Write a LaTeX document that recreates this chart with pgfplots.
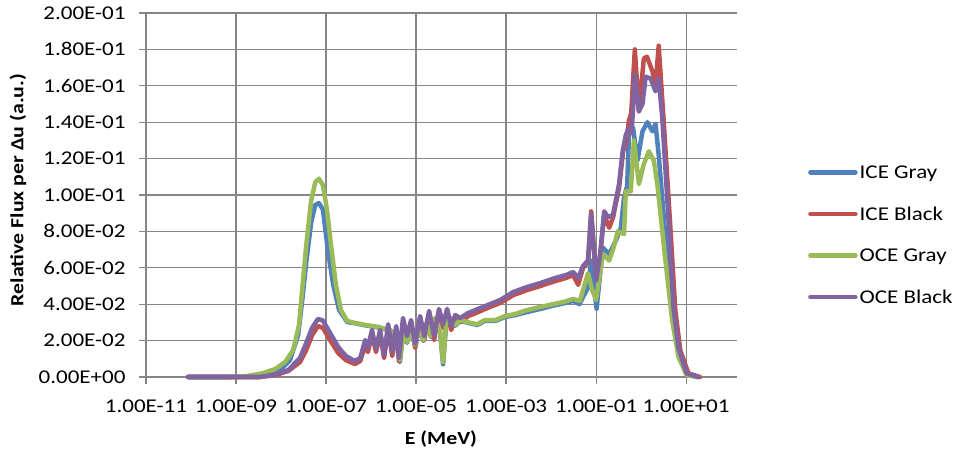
\documentclass[border=0pt]{standalone}
\usepackage{fontspec}
\setmainfont{Carlito}[FakeStretch=1.18]
\usepackage{pgfplots}
\usepackage{pgfplotstable}
\pgfplotsset{compat=1.18}
\definecolor{gridgray}{RGB}{134,134,134}
\definecolor{iceg}{RGB}{79,129,189}
\definecolor{iceb}{RGB}{192,80,77}
\definecolor{oceg}{RGB}{155,187,89}
\definecolor{oceb}{RGB}{128,100,162}

% x = log10(E / MeV), y = relative flux per lethargy
\pgfplotstableread{
logE val
-10.07 0
-9.13 0
-8.76 0.0003
-8.36 0.0016
-8.02 0.0038
-7.80 0.0093
-7.62 0.023
-7.53 0.042
-7.44 0.063
-7.33 0.085
-7.24 0.0945
-7.16 0.0956
-7.07 0.092
-6.96 0.070
-6.84 0.0505
-6.71 0.0368
-6.53 0.0302
-6.36 0.0295
-6.13 0.0284
-5.84 0.0272
-5.58 0.0255
-5.44 0.0232
-5.36 0.0082
-5.29 0.0232
-5.20 0.0188
-5.11 0.0266
-5.02 0.0170
-4.93 0.0282
-4.84 0.0198
-4.76 0.0296
-4.67 0.0220
-4.58 0.0320
-4.47 0.0254
-4.40 0.0070
-4.33 0.0296
-4.24 0.0320
-4.13 0.0282
-4.02 0.0310
-3.84 0.0297
-3.64 0.0286
-3.47 0.0308
-3.24 0.0308
-3.02 0.0330
-2.80 0.0340
-2.53 0.0357
-2.24 0.0374
-1.96 0.0392
-1.73 0.0404
-1.51 0.0418
-1.37 0.0400
-1.29 0.0440
-1.18 0.0490
-1.11 0.0640
-0.99 0.0375
-0.85 0.0710
-0.71 0.0676
-0.56 0.0750
-0.45 0.0820
-0.38 0.0987
-0.31 0.1050
-0.27 0.133
-0.18 0.137
-0.08 0.119
0.03 0.135
0.14 0.140
0.25 0.135
0.32 0.139
0.39 0.122
0.54 0.077
0.69 0.035
0.87 0.0128
1.05 0.001
1.27 0
}\iceGray

\pgfplotstableread{
logE val
-10.07 0
-8.47 0
-8.13 0.001
-7.84 0.0033
-7.58 0.0082
-7.44 0.0148
-7.31 0.023
-7.18 0.028
-7.07 0.027
-6.91 0.0203
-6.73 0.0132
-6.56 0.0093
-6.36 0.0071
-6.24 0.0088
-6.13 0.0176
-6.07 0.0137
-5.98 0.0236
-5.89 0.0137
-5.80 0.0242
-5.71 0.0104
-5.62 0.027
-5.53 0.0115
-5.44 0.0258
-5.38 0.0088
-5.29 0.030
-5.20 0.0203
-5.11 0.029
-5.02 0.016
-4.91 0.0313
-4.82 0.0203
-4.71 0.0346
-4.60 0.0203
-4.49 0.0357
-4.40 0.027
-4.31 0.0357
-4.22 0.0258
-4.13 0.0324
-4.02 0.030
-3.84 0.0335
-3.62 0.0357
-3.36 0.0385
-3.13 0.0407
-2.84 0.045
-2.53 0.0478
-2.24 0.050
-1.91 0.0527
-1.67 0.0544
-1.51 0.056
-1.40 0.0506
-1.29 0.060
-1.18 0.063
-1.11 0.091
-1.00 0.055
-0.91 0.067
-0.82 0.089
-0.71 0.082
-0.62 0.088
-0.49 0.104
-0.40 0.124
-0.34 0.128
-0.27 0.141
-0.22 0.145
-0.14 0.180
-0.05 0.146
0.06 0.175
0.13 0.176
0.25 0.168
0.32 0.160
0.39 0.182
0.50 0.141
0.65 0.082
0.76 0.0365
0.87 0.0146
1.05 0.002
1.31 0
}\iceBlack

\pgfplotstableread{
logE val
-10.07 0
-9.13 0
-8.76 0.0005
-8.42 0.002
-8.13 0.0044
-7.91 0.0082
-7.73 0.0148
-7.60 0.0286
-7.53 0.048
-7.44 0.0725
-7.33 0.097
-7.24 0.107
-7.16 0.109
-7.07 0.1055
-6.98 0.092
-6.89 0.0725
-6.78 0.0505
-6.67 0.0368
-6.53 0.0308
-6.36 0.0297
-6.13 0.0286
-5.84 0.0275
-5.58 0.0258
-5.44 0.0236
-5.36 0.0093
-5.29 0.0236
-5.20 0.0192
-5.11 0.027
-5.02 0.0176
-4.93 0.0286
-4.84 0.0203
-4.76 0.030
-4.67 0.0225
-4.58 0.0324
-4.47 0.0258
-4.40 0.0082
-4.33 0.030
-4.24 0.0324
-4.13 0.0286
-4.02 0.0313
-3.84 0.030
-3.64 0.029
-3.47 0.0313
-3.24 0.0313
-3.02 0.0335
-2.80 0.0346
-2.53 0.0368
-2.24 0.0385
-1.96 0.040
-1.73 0.0412
-1.51 0.0429
-1.36 0.0418
-1.29 0.0478
-1.18 0.057
-1.09 0.0478
-1.00 0.0423
-0.85 0.0676
-0.71 0.064
-0.60 0.072
-0.52 0.080
-0.38 0.0786
-0.34 0.102
-0.23 0.102
-0.16 0.130
-0.05 0.106
0.06 0.117
0.17 0.124
0.28 0.119
0.36 0.106
0.54 0.064
0.69 0.031
0.83 0.011
1.01 0.001
1.27 0
}\oceGray

\pgfplotstableread{
logE val
-10.07 0
-8.47 0
-8.13 0.0014
-7.84 0.0038
-7.58 0.0104
-7.44 0.0187
-7.31 0.027
-7.18 0.0319
-7.07 0.031
-6.91 0.0242
-6.73 0.0165
-6.56 0.0115
-6.36 0.0088
-6.24 0.0104
-6.13 0.0203
-6.07 0.016
-5.98 0.0258
-5.89 0.0154
-5.80 0.0258
-5.71 0.012
-5.62 0.029
-5.53 0.0137
-5.44 0.028
-5.38 0.0104
-5.29 0.0324
-5.20 0.0225
-5.11 0.0313
-5.02 0.0181
-4.91 0.0335
-4.82 0.0225
-4.71 0.0363
-4.60 0.0225
-4.49 0.0374
-4.40 0.029
-4.31 0.0374
-4.22 0.028
-4.13 0.034
-4.02 0.0324
-3.84 0.0352
-3.62 0.0374
-3.36 0.040
-3.13 0.0423
-2.84 0.0467
-2.53 0.0495
-2.24 0.0516
-1.91 0.0544
-1.67 0.056
-1.51 0.0577
-1.40 0.0544
-1.29 0.061
-1.18 0.064
-1.11 0.0895
-1.00 0.053
-0.91 0.0676
-0.82 0.091
-0.74 0.088
-0.63 0.0886
-0.49 0.106
-0.41 0.124
-0.34 0.133
-0.27 0.137
-0.21 0.134
-0.14 0.166
-0.05 0.146
0.03 0.150
0.10 0.165
0.21 0.164
0.32 0.157
0.39 0.164
0.47 0.1425
0.61 0.086
0.72 0.038
0.83 0.016
1.01 0.002
1.27 0
}\oceBlack

\begin{document}
\begin{tikzpicture}
\useasboundingbox (0,0) rectangle (956bp,454bp);
\begin{axis}[
  at={(146bp,77bp)}, anchor=south west,
  scale only axis, width=591bp, height=364bp,
  xmin=-11, xmax=2.13, ymin=0, ymax=0.2,
  clip=false,
  axis x line*=bottom, axis y line*=left,
  axis line style={gridgray, line width=1.2bp, -},
  grid=major,
  major grid style={gridgray, line width=1.2bp},
  tick align=outside,
  major tick length=7bp,
  major tick style={gridgray, line width=1.2bp},
  xtick={-11,-9,-7,-5,-3,-1,1},
  xticklabels={1.00E-11,1.00E-09,1.00E-07,1.00E-05,1.00E-03,1.00E-01,1.00E+01},
  ytick={0,0.02,0.04,0.06,0.08,0.1,0.12,0.14,0.16,0.18,0.2},
  yticklabels={0.00E+00,2.00E-02,4.00E-02,6.00E-02,8.00E-02,1.00E-01,1.20E-01,1.40E-01,1.60E-01,1.80E-01,2.00E-01},
  tick label style={font=\fontsize{19.5bp}{23bp}\selectfont, text=black},
  xticklabel style={yshift=-12bp},
  yticklabel style={xshift=-10bp},
  xlabel={E (MeV)},
  ylabel={Relative Flux per Δu (a.u.)},
  xlabel style={font=\bfseries\fontsize{18.5bp}{22bp}\selectfont, at={(axis description cs:0.499,-0.170)}, anchor=center},
  ylabel style={font=\bfseries\fontsize{18.5bp}{22bp}\selectfont, at={(axis description cs:-0.2166,0.514)}, anchor=center, rotate=0},
  legend style={at={(axis description cs:1,0.39)}, anchor=west, xshift=68bp, draw=none, fill=none,
    font=\fontsize{19.5bp}{23bp}\selectfont, row sep=23bp},
  legend cell align=left,
  legend image code/.code={\draw[#1, line width=4.5bp] (0bp,0bp) -- (45bp,0bp);},
  every axis plot/.append style={line width=4.5bp, line join=round, line cap=round},
]
\addplot[iceg] table[x=logE, y=val] {\iceGray};
\addplot[iceb] table[x=logE, y=val] {\iceBlack};
\addplot[oceg] table[x=logE, y=val] {\oceGray};
\addplot[oceb] table[x=logE, y=val] {\oceBlack};
\legend{ICE Gray, ICE Black, OCE Gray, OCE Black}
\end{axis}
\end{tikzpicture}
\end{document}
